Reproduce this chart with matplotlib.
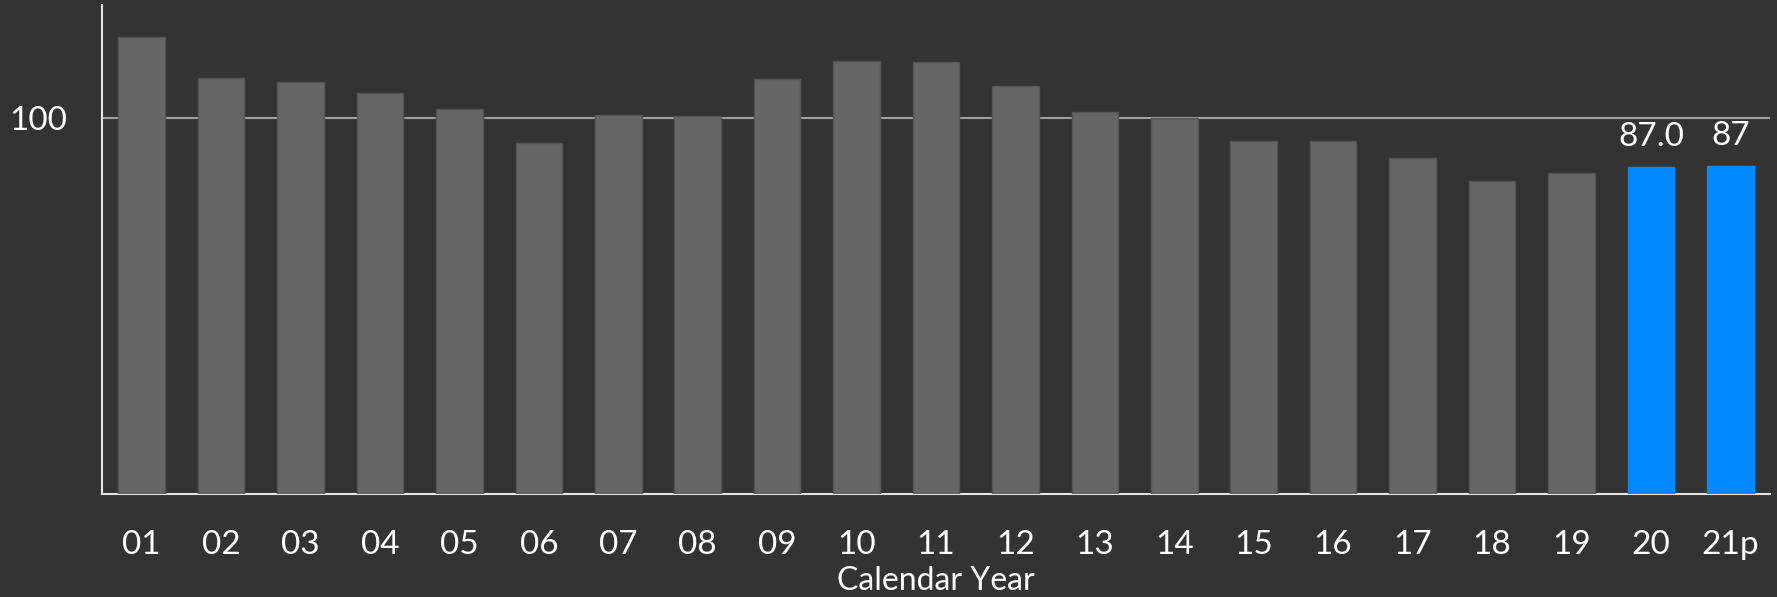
import numpy as np
import matplotlib.pyplot as plt

plt.rcParams['font.family'] = ['Lato', 'DejaVu Sans']

# data
years = ['01', '02', '03', '04', '05', '06', '07', '08', '09', '10', '11',
         '12', '13', '14', '15', '16', '17', '18', '19', '20', '21p']
values = [121.5, 110.7, 109.5, 106.7, 102.4, 93.2, 100.7, 100.5, 110.3, 115.0, 114.8,
          108.5, 101.5, 100.0, 93.8, 93.9, 89.3, 83.2, 85.4, 87.0, 87.3]
highlight = ['20', '21p']
value_labels = {'20': '87.0', '21p': '87'}

bg = '#333333'
grey = '#666666'
blue = '#0088ff'

fig = plt.figure(figsize=(17.77, 5.97), dpi=100, facecolor=bg)
ax = fig.add_axes([102/1777, 1 - 494/597, (1770 - 102)/1777, (494 - 5)/597])
ax.set_facecolor(bg)

x = np.arange(len(years))
colors = [blue if y in highlight else grey for y in years]
edges = [blue if y in highlight else '#555555' for y in years]
ax.bar(x, values, width=0.585, color=colors, edgecolor=edges, linewidth=1, zorder=3)

for i, y in enumerate(years):
    if y in value_labels:
        ax.text(i, values[i] + 4.0, value_labels[y], ha='center', va='bottom',
                color='white', fontsize=24)

ax.set_xlim(-0.5, len(years) - 0.5)
ax.set_ylim(0, 130)
ax.set_yticks([100])
ax.set_yticklabels(['100'])
ax.yaxis.grid(True, color='#a0a0a0', linewidth=1.5, zorder=0)
ax.set_axisbelow(True)
ax.set_xticks(x)
ax.set_xticklabels(years)
ax.tick_params(axis='both', length=0, colors='white', labelsize=24)
ax.tick_params(axis='x', pad=26)
ax.tick_params(axis='y', pad=25)
ax.set_xlabel('Calendar Year', color='white', fontsize=23, labelpad=4)

for s in ['top', 'right']:
    ax.spines[s].set_visible(False)
for s in ['left', 'bottom']:
    ax.spines[s].set_color('#e6e6e6')
    ax.spines[s].set_linewidth(1.5)

fig.savefig('out.png', dpi=100, facecolor=bg)
